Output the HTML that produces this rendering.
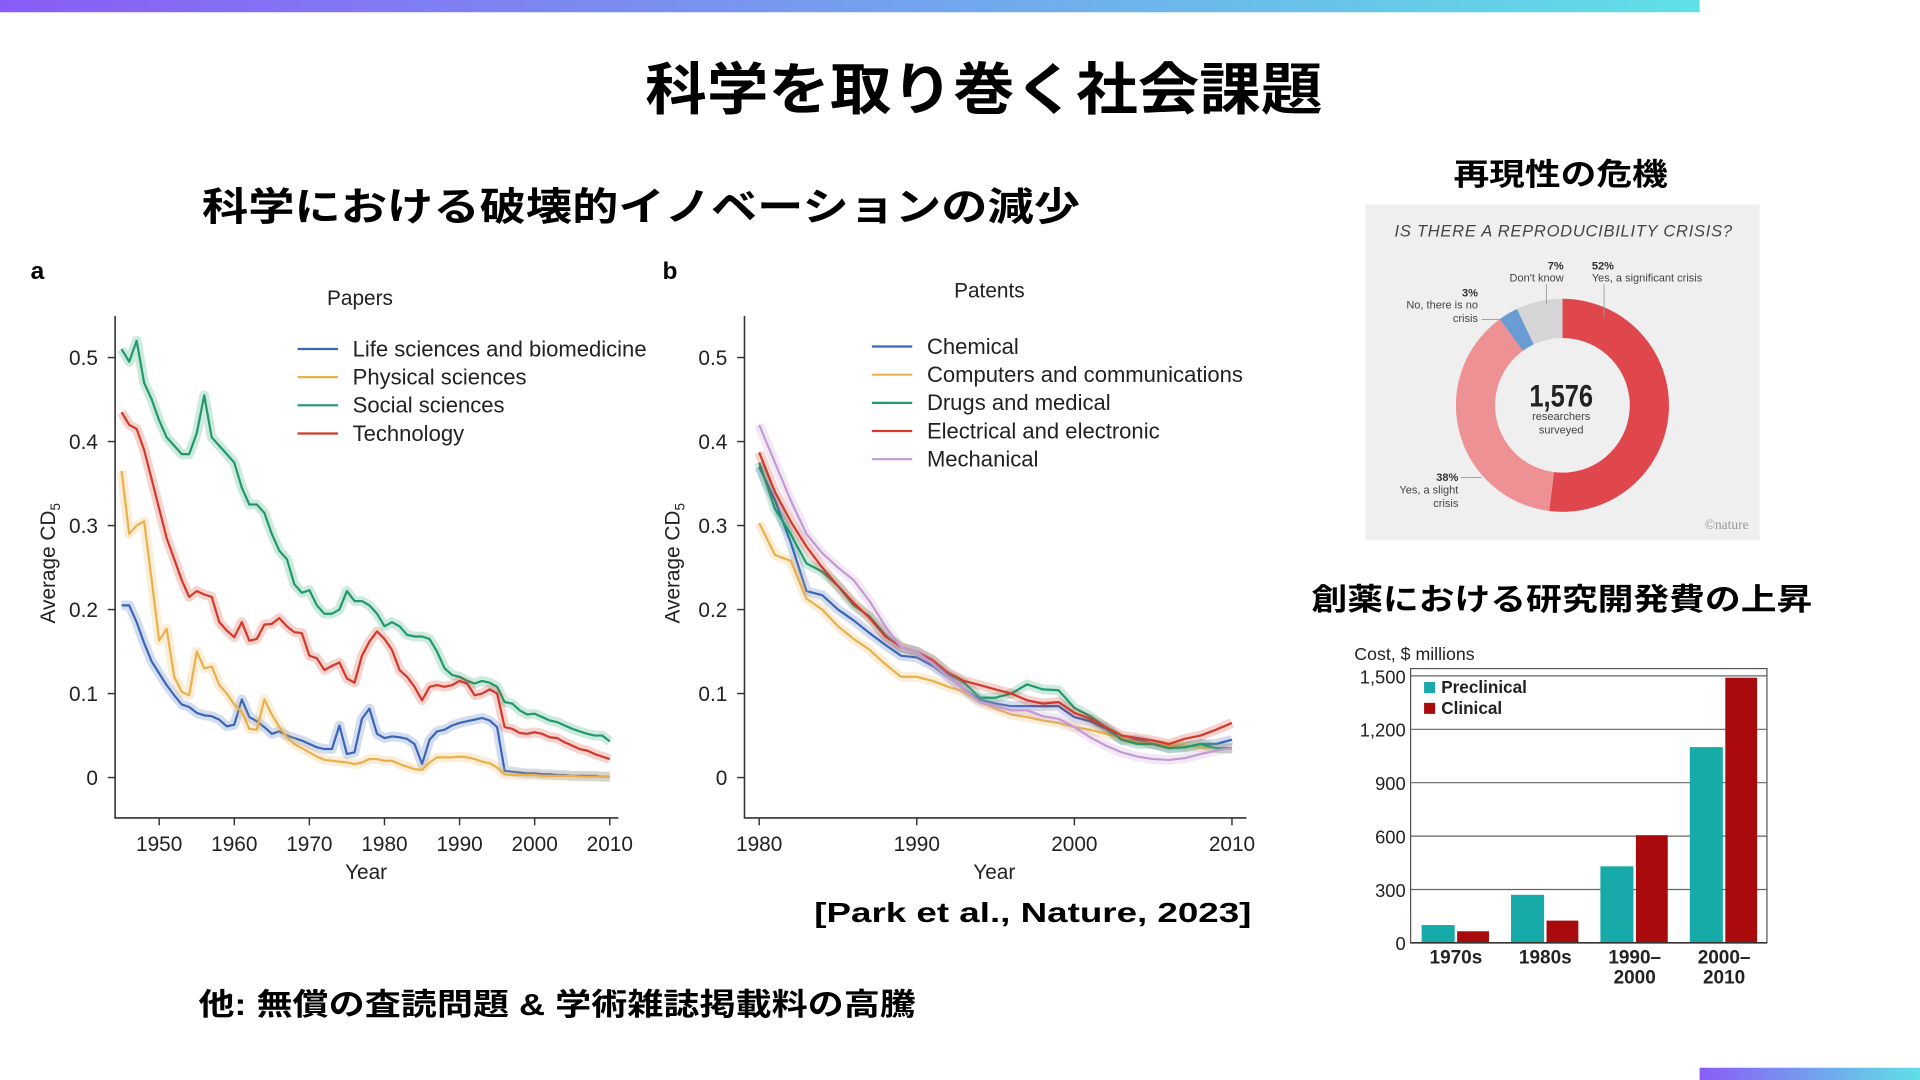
<!DOCTYPE html>
<html><head><meta charset="utf-8"><style>
html,body{margin:0;padding:0;background:#fff;width:1920px;height:1080px;overflow:hidden}
svg{display:block}
.jp{font-family:"Liberation Sans","Noto Sans CJK JP",sans-serif;font-weight:700}
.lt{font-family:"Liberation Sans",sans-serif}
</style></head><body>
<svg id="s" width="1920" height="1080" viewBox="0 0 1568 882" xmlns="http://www.w3.org/2000/svg">
<defs><linearGradient id="g1" x1="0" x2="1"><stop offset="0" stop-color="#8a5cf6"/><stop offset="1" stop-color="#5fe0e6"/></linearGradient></defs>
<rect x="0" y="0" width="1388" height="10" fill="url(#g1)"/>
<rect x="1388" y="872" width="180" height="10" fill="url(#g1)"/>
<text x="527" y="89" textLength="553" lengthAdjust="spacingAndGlyphs" class="jp" font-size="46" font-weight="900">科学を取り巻く社会課題</text>
<text x="165" y="180" textLength="717" lengthAdjust="spacingAndGlyphs" class="jp" font-size="32">科学における破壊的イノベーションの減少</text>
<text x="665" y="753" textLength="357" lengthAdjust="spacingAndGlyphs" class="jp" font-size="23">[Park et al., Nature, 2023]</text>
<text x="162" y="829" textLength="586" lengthAdjust="spacingAndGlyphs" class="jp" font-size="25">他: 無償の査読問題 &amp; 学術雑誌掲載料の高騰</text>
<text x="1187" y="151" textLength="175" lengthAdjust="spacingAndGlyphs" class="jp" font-size="25">再現性の危機</text>
<text x="1071" y="498" textLength="409" lengthAdjust="spacingAndGlyphs" class="jp" font-size="25">創薬における研究開発費の上昇</text>
<g id="ga"></g>
<g id="gb"></g>
<g id="gd"></g>
<g id="gc"></g>
</svg>
<script>
const yearsA = [];
for (let y = 1945; y <= 2010; y++) yearsA.push(y);
const lifeSci = [.205,.205,.185,.16,.138,.124,.11,.098,.087,.084,.077,.074,.073,.069,.061,.063,.093,.072,.067,.06,.052,.055,.05,.047,.044,.04,.036,.034,.034,.062,.028,.03,.07,.082,.052,.047,.049,.048,.046,.04,.016,.045,.055,.057,.062,.065,.067,.069,.071,.068,.06,.008,.007,.006,.005,.005,.004,.004,.003,.003,.002,.002,.002,.002,.001,.001];
const physSci = [.365,.29,.3,.305,.235,.163,.177,.12,.102,.098,.15,.13,.132,.11,.1,.087,.078,.058,.057,.093,.075,.06,.048,.04,.035,.03,.025,.021,.02,.019,.018,.016,.018,.022,.022,.02,.02,.016,.013,.01,.009,.018,.024,.024,.024,.025,.024,.022,.019,.017,.012,.004,.003,.003,.003,.003,.002,.002,.002,.002,.002,.001,.001,.001,.001,.001];
const socSci = [.51,.495,.52,.47,.45,.425,.405,.395,.385,.385,.41,.455,.405,.395,.385,.375,.345,.325,.325,.315,.29,.27,.26,.23,.22,.223,.205,.195,.195,.2,.222,.21,.21,.205,.195,.18,.185,.18,.17,.168,.168,.165,.15,.13,.122,.12,.115,.112,.115,.113,.108,.09,.088,.08,.075,.076,.072,.068,.066,.062,.058,.055,.052,.05,.05,.043];
const techA = [.435,.42,.415,.39,.355,.32,.285,.26,.235,.215,.222,.218,.215,.185,.175,.167,.185,.163,.165,.182,.183,.19,.18,.173,.172,.145,.142,.128,.133,.137,.118,.113,.145,.162,.174,.165,.152,.128,.12,.108,.092,.108,.11,.108,.11,.115,.112,.098,.1,.105,.1,.06,.058,.053,.052,.054,.052,.048,.047,.042,.038,.034,.032,.028,.025,.022];
const yearsB = [];
for (let y = 1980; y <= 2010; y++) yearsB.push(y);
const chemical = [.37,.33,.28,.222,.217,.2,.187,.172,.158,.145,.143,.133,.12,.105,.093,.088,.085,.085,.085,.085,.072,.067,.058,.045,.045,.04,.035,.036,.04,.04,.045];
const computers = [.303,.265,.258,.213,.2,.18,.165,.152,.135,.12,.12,.115,.108,.102,.09,.082,.075,.072,.068,.065,.06,.057,.052,.047,.042,.04,.038,.038,.036,.035,.034];
const drugs = [.375,.32,.29,.255,.245,.228,.205,.192,.17,.155,.15,.14,.123,.113,.095,.095,.1,.111,.105,.104,.083,.073,.06,.045,.04,.04,.035,.036,.04,.035,.035];
const electrical = [.387,.34,.305,.275,.25,.228,.208,.19,.168,.155,.15,.14,.125,.115,.11,.105,.1,.092,.088,.09,.077,.07,.06,.05,.047,.044,.04,.046,.05,.057,.065];
const mechanical = [.42,.375,.33,.29,.267,.25,.235,.21,.18,.155,.15,.135,.12,.105,.09,.085,.08,.08,.073,.07,.06,.048,.038,.03,.025,.022,.021,.023,.028,.032,.035];
const yTicks = [0, 0.1, 0.2, 0.3, 0.4, 0.5];
const yTickLabels = ["0","0.1","0.2","0.3","0.4","0.5"];
const xTicksA = [1950,1960,1970,1980,1990,2000,2010];
const xTicksB = [1980,1990,2000,2010];
const donutLabels = ["Yes, a significant crisis","Yes, a slight crisis","No, there is no crisis","Don't know"];
const donutValues = [52, 38, 3, 7];
const barCategories = ["1970s","1980s","1990–2000","2000–2010"];
const preclinical = [100, 270, 430, 1100];
const clinical = [65, 125, 605, 1490];
const costTicks = [0,300,600,900,1200,1500];
const costTickLabels = ["0","300","600","900","1,200","1,500"];

const NS = "http://www.w3.org/2000/svg";
function mk(parent, tag, attrs, text) {
  const e = document.createElementNS(NS, tag);
  for (const k in attrs) e.setAttribute(k, attrs[k]);
  if (text !== undefined) e.textContent = text;
  parent.appendChild(e);
  return e;
}
function yScale(v) { return 635 - v * 686; }

function lineChart(g, opt) {
  const xs = y => opt.x0 + (y - opt.y0) * opt.ppy;
  let t = mk(g, "text", {x: opt.lblX, y: 228, class: "jp", "font-size": 20});
  t.textContent = opt.letter;
  
  
  t = mk(g, "text", {x: opt.titleX, y: opt.titleY, class: "lt", "font-size": 17, "text-anchor": "middle", fill: "#222"}, opt.title);
  
  
  let a = mk(g, "path", {d: `M${opt.axL} 258 V668 H${opt.axR}`, stroke: "#333", "stroke-width": 1.3, fill: "none"});
  
  
  yTicks.forEach((v, i) => {
    const y = yScale(v);
    mk(g, "line", {x1: opt.axL - 6, x2: opt.axL, y1: y, y2: y, stroke: "#333", "stroke-width": 1.2});
    const tl = mk(g, "text", {x: opt.axL - 14, y: y + 6, "text-anchor": "end", class: "lt", "font-size": 17, fill: "#222"}, yTickLabels[i]);
    
    
  });
  opt.xticks.forEach(yr => {
    const x = xs(yr);
    mk(g, "line", {x1: x, x2: x, y1: 668, y2: 674, stroke: "#333", "stroke-width": 1.2});
    const tl = mk(g, "text", {x: x, y: 695, "text-anchor": "middle", class: "lt", "font-size": 17, fill: "#222"}, String(yr));
    
    
  });
  t = mk(g, "text", {x: opt.xTitleX, y: 718, "text-anchor": "middle", class: "lt", "font-size": 17, fill: "#222"}, "Year");
  
  
  t = mk(g, "text", {x: 0, y: 0, transform: `translate(${opt.yTitleX},460) rotate(-90)`, "text-anchor": "middle", class: "lt", "font-size": 17, fill: "#222"});
  t.innerHTML = 'Average CD<tspan font-size="11" dy="4">5</tspan>';
  
  
  opt.series.forEach((s, i) => {
    const d = s.vals.map((v, j) => (j ? "L" : "M") + xs(opt.years[j]).toFixed(1) + " " + yScale(v).toFixed(1)).join(" ");
    const band = mk(g, "path", {d: d, stroke: s.c, "stroke-width": 8, "stroke-opacity": 0.22, fill: "none", "stroke-linejoin": "round"});
    
    
    const ln = mk(g, "path", {d: d, stroke: s.c, "stroke-width": 1.8, fill: "none", "stroke-linejoin": "round"});
    
    
    const ly = opt.legY + i * 23;
    const lg = mk(g, "g", {});
    
    
    mk(lg, "line", {x1: opt.legX, x2: opt.legX + 33, y1: ly, y2: ly, stroke: s.c, "stroke-width": 1.8});
    mk(lg, "text", {x: opt.legX + 45, y: ly + 6, class: "lt", "font-size": 18, fill: "#222"}, s.name);
  });
}
const cBlue = "#3b66b8", cYel = "#e9b04c", cGrn = "#1f9a6b", cRed = "#d2392b", cPur = "#c39ad3";
lineChart(document.getElementById("ga"), {
  letter: "a", lblX: 25, title: "Papers", titleX: 294, titleY: 249,
  axL: 94, axR: 505, x0: 130, y0: 1950, ppy: 6.133, years: yearsA, xticks: xTicksA,
  xTitleX: 299, yTitleX: 45, legX: 243, legY: 285,
  series: [{name: "Life sciences and biomedicine", vals: lifeSci, c: cBlue},
           {name: "Physical sciences", vals: physSci, c: cYel},
           {name: "Social sciences", vals: socSci, c: cGrn},
           {name: "Technology", vals: techA, c: cRed}]
});
lineChart(document.getElementById("gb"), {
  letter: "b", lblX: 541, title: "Patents", titleX: 808, titleY: 243,
  axL: 608, axR: 1018, x0: 620, y0: 1980, ppy: 12.87, years: yearsB, xticks: xTicksB,
  xTitleX: 812, yTitleX: 555, legX: 712, legY: 283,
  series: [{name: "Chemical", vals: chemical, c: cBlue},
           {name: "Computers and communications", vals: computers, c: cYel},
           {name: "Drugs and medical", vals: drugs, c: cGrn},
           {name: "Electrical and electronic", vals: electrical, c: cRed},
           {name: "Mechanical", vals: mechanical, c: cPur}]
});

// Donut
(function(){
  const g = document.getElementById("gd");
  let r = mk(g, "rect", {x: 1115, y: 167, width: 322, height: 274, fill: "#efefef"});
  
  
  let t = mk(g, "text", {x: 1277, y: 193, "text-anchor": "middle", class: "lt", "font-size": 13.5, "font-style": "italic", fill: "#444", "letter-spacing": "0.6"}, "IS THERE A REPRODUCIBILITY CRISIS?");
  
  
  const cx = 1276, cy = 331, R = 87, ri = 55;
  const cols = ["#e0474d", "#ee9195", "#6a9bd3", "#d5d5d5"];
  const total = donutValues.reduce((a, b) => a + b, 0);
  let ang = 0;
  donutValues.forEach((v, i) => {
    const a0 = ang, a1 = ang + v / total * 2 * Math.PI; ang = a1;
    const p = (rr, a) => [cx + rr * Math.sin(a), cy - rr * Math.cos(a)];
    const [x0, y0] = p(R, a0), [x1, y1] = p(R, a1), [x2, y2] = p(ri, a1), [x3, y3] = p(ri, a0);
    const lg = (a1 - a0) > Math.PI ? 1 : 0;
    const s = mk(g, "path", {d: `M${x0} ${y0} A${R} ${R} 0 ${lg} 1 ${x1} ${y1} L${x2} ${y2} A${ri} ${ri} 0 ${lg} 0 ${x3} ${y3}Z`, fill: cols[i]});
    
    
    mk(s, "title", {}, donutLabels[i] + " " + v + "%");
  });
  const lab = [
    [1300, 220, "start", "52%", "Yes, a significant crisis", null],
    [1277, 220, "end", "7%", "Don't know", null],
    [1207, 242, "end", "3%", "No, there is no", "crisis"],
    [1191, 393, "end", "38%", "Yes, a slight", "crisis"]
  ];
  lab.forEach(l => {
    const gg = mk(g, "g", {});
    
    
    mk(gg, "text", {x: l[0], y: l[1], "text-anchor": l[2], class: "lt", "font-size": 9, "font-weight": "bold", fill: "#333"}, l[3]);
    mk(gg, "text", {x: l[0], y: l[1] + 10, "text-anchor": l[2], class: "lt", "font-size": 9, fill: "#444"}, l[4]);
    if (l[5]) mk(gg, "text", {x: l[0], y: l[1] + 21, "text-anchor": l[2], class: "lt", "font-size": 9, fill: "#444"}, l[5]);
  });
  [[1310,232,1310,260],[1263,232,1263,248],[1210,261,1226,261],[1193,390,1210,390]].forEach(c=>mk(g,"line",{x1:c[0],y1:c[1],x2:c[2],y2:c[3],stroke:"#999","stroke-width":0.7}));
  t = mk(g, "text", {x: cx - 1, y: 332, "text-anchor": "middle", class: "lt", "font-size": 26, "font-weight": "bold", fill: "#222", transform: `translate(${cx-1} 332) scale(0.8 1) translate(${-(cx-1)} -332)`}, "1,576");
  
  
  mk(g, "text", {x: cx - 1, y: 343, "text-anchor": "middle", class: "lt", "font-size": 9, fill: "#444"}, "researchers");
  mk(g, "text", {x: cx - 1, y: 354, "text-anchor": "middle", class: "lt", "font-size": 9, fill: "#444"}, "surveyed");
  t = mk(g, "text", {x: 1428, y: 432, "text-anchor": "end", "font-family": "Liberation Serif", "font-size": 11, fill: "#999"}, "©nature");
  
  
})();

// Bar chart
(function(){
  const g = document.getElementById("gc");
  const L = 1152, Rr = 1443, T = 546, B = 770;
  const ys = v => B - v * (B - 552) / 1500;
  let t = mk(g, "text", {x: 1106, y: 539, class: "lt", "font-size": 14.5, fill: "#222"}, "Cost, $ millions");
  
  
  costTicks.forEach((v, i) => {
    if (v > 0) mk(g, "line", {x1: L, x2: Rr, y1: ys(v), y2: ys(v), stroke: "#666", "stroke-width": 1});
    const tl = mk(g, "text", {x: 1148, y: ys(v) + 6, "text-anchor": "end", class: "lt", "font-size": 15, fill: "#222"}, costTickLabels[i]);
    
    
  });
  mk(g, "rect", {x: L, y: T, width: Rr - L, height: B - T, fill: "none", stroke: "#555", "stroke-width": 1});
  const groupW = 73, bw = 27;
  barCategories.forEach((c, i) => {
    const gx = 1161 + i * groupW;
    const b1 = mk(g, "rect", {x: gx, y: ys(preclinical[i]), width: bw, height: B - ys(preclinical[i]), fill: "#16aaa8"});
    
    
    const b2 = mk(g, "rect", {x: gx + 29, y: ys(clinical[i]), width: bw - 1, height: B - ys(clinical[i]), fill: "#a90b0d"});
    
    
    const parts = c.split("–");
    const cl = mk(g, "text", {x: gx + 28, y: 787, "text-anchor": "middle", class: "lt", "font-size": 15.5, "font-weight": "bold", fill: "#222"});
    
    
    if (parts.length > 1) {
      mk(cl, "tspan", {x: gx + 28, dy: 0}, parts[0] + "–");
      mk(cl, "tspan", {x: gx + 28, dy: 16}, parts[1]);
    } else cl.textContent = c;
  });
  mk(g, "line", {x1: L, x2: Rr, y1: B, y2: B, stroke: "#333", "stroke-width": 1.3});
  [["Preclinical", "#16aaa8", 566], ["Clinical", "#a90b0d", 583]].forEach(l => {
    const lg = mk(g, "g", {});
    
    
    mk(lg, "rect", {x: 1163, y: l[2] - 9, width: 9, height: 9, fill: l[1]});
    mk(lg, "text", {x: 1177, y: l[2], class: "lt", "font-size": 14, "font-weight": "bold", fill: "#222"}, l[0]);
  });
})();
</script>
</body></html>
